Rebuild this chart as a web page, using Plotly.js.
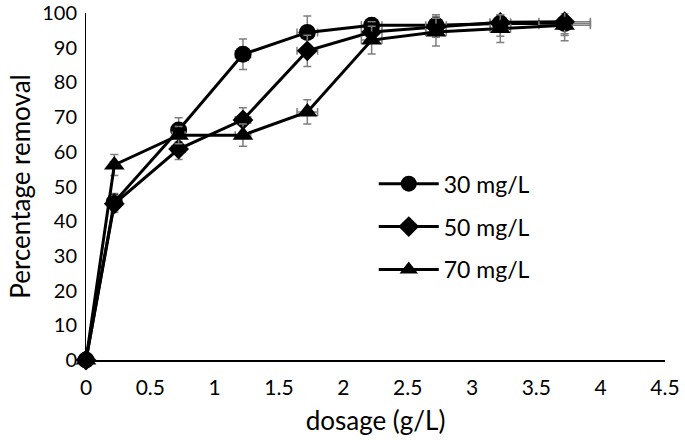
<!DOCTYPE html>
<html><head><meta charset="utf-8">
<script src="https://cdn.plot.ly/plotly-3.0.1.min.js"></script>
<style>html,body{margin:0;padding:0;background:#fff}#chart{width:685px;height:440px}</style>
</head><body><div id="chart"></div>
<script>
const dosage = [0, 0.22, 0.72, 1.22, 1.72, 2.22, 2.72, 3.22, 3.72];
const removal30 = [0, 45.5, 66.3, 88.1, 94.4, 96.5, 96.5, 97, 97];
const removal50 = [0, 45, 60.8, 69.2, 89.1, 94.5, 96, 97.3, 97.5];
const removal70 = [0, 56.2, 64.8, 64.8, 71.5, 92.2, 94.5, 95.5, 96.5];
const err30 = [0, 2.5, 3.5, 4.4, 4.7, 2, 3, 2.5, 3];
const err50 = [0, 2.5, 3, 3.5, 4.5, 3, 3, 4, 4];
const err70 = [0, 3, 2.5, 3.2, 3.5, 4, 4, 4, 4.5];
const errX = [0, 0.03, 0.05, 0.06, 0.08, 0.08, 0.08, 0.08, 0.2];
const names = ['30 mg/L', '50 mg/L', '70 mg/L'];
const symbols = ['circle', 'diamond', 'triangle-up'];
const sizes = [17, 16, 18];
const ys = [removal30, removal50, removal70];
const errs = [err30, err50, err70];

const traces = ys.map((y, i) => ({
  x: dosage, y: y, name: names[i], type: 'scatter', mode: 'lines+markers',
  legendgroup: 'g' + i,
  line: {color: '#000', width: 3},
  marker: {symbol: symbols[i], size: sizes[i], color: '#000'},
  error_y: {type: 'data', array: errs[i], visible: true, color: '#7f7f7f', thickness: 1.5, width: 4},
  error_x: {type: 'data', array: errX, visible: true, color: '#7f7f7f', thickness: 1.5, width: 4},
  cliponaxis: false
}));

const layout = {
  width: 685, height: 440,
  margin: {l: 86, r: 20, t: 13, b: 80},
  paper_bgcolor: '#fff', plot_bgcolor: '#fff',
  font: {family: 'Lato, "Open Sans", sans-serif', color: '#000', size: 20},
  xaxis: {
    range: [0, 4.5], tickvals: [0, 0.5, 1, 1.5, 2, 2.5, 3, 3.5, 4, 4.5],
    ticktext: ['0', '0.5', '1', '1.5', '2', '2.5', '3', '3.5', '4', '4.5'],
    showgrid: false, zeroline: false, showline: true, linecolor: '#000', linewidth: 1.5,
    ticks: '', ticklabelstandoff: 8,
    tickfont: {size: 21, family: 'Lato, sans-serif'},
    title: {text: 'dosage (g/L)', font: {size: 26, family: 'Lato, sans-serif'}, standoff: 14}
  },
  yaxis: {
    range: [0, 100], tickvals: [0, 10, 20, 30, 40, 50, 60, 70, 80, 90, 100],
    showgrid: false, zeroline: false, showline: true, linecolor: '#000', linewidth: 1,
    ticks: '', ticklabelstandoff: 4, tickfont: {size: 20, family: 'Lato, sans-serif'},
    title: {text: 'Percentage removal', font: {size: 26, family: 'Lato, sans-serif'}, standoff: 4}
  },
  showlegend: true,
  legend: {x: 0.497, y: 0.57, xanchor: 'left', yanchor: 'top', bgcolor: 'rgba(0,0,0,0)',
    font: {size: 23, family: 'Lato, sans-serif'}, itemwidth: 60, traceorder: 'grouped', tracegroupgap: 10}
};
Plotly.newPlot('chart', traces, layout, {displayModeBar: false, staticPlot: true});
</script></body></html>
